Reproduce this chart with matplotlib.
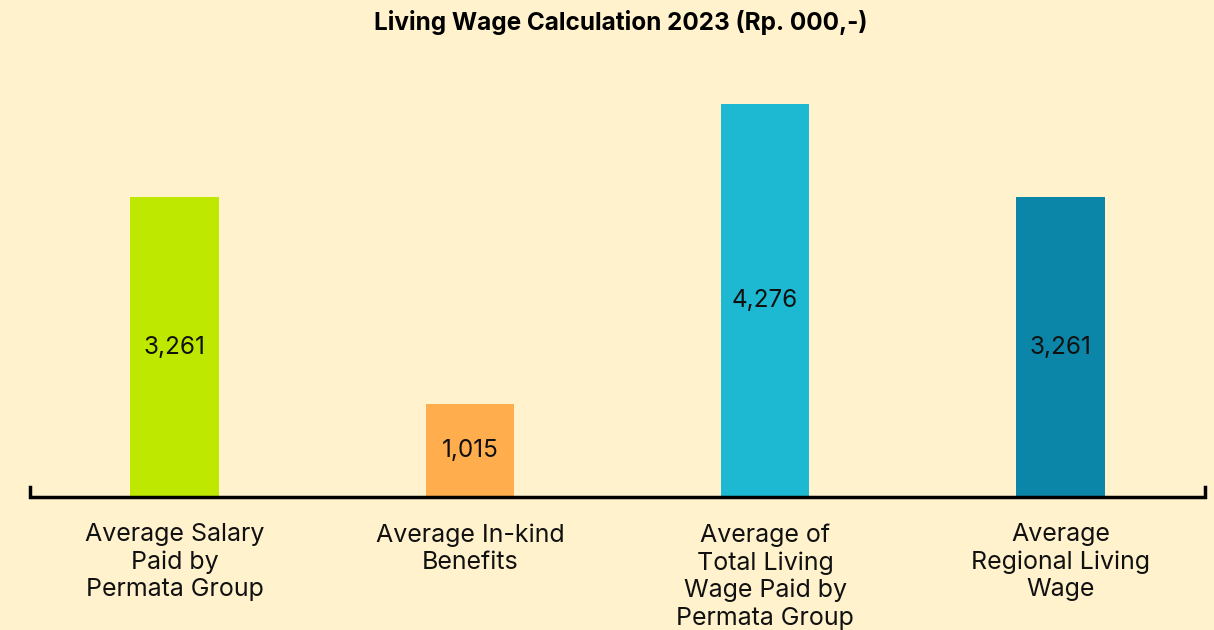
import numpy as np
import matplotlib.pyplot as plt

plt.rcParams['font.family'] = ['Inter', 'DejaVu Sans']

categories = ['Average Salary\nPaid by\nPermata Group',
              'Average In-kind\nBenefits',
              'Average of\nTotal Living\nWage Paid by\nPermata Group',
              'Average\nRegional Living\nWage']
values = [3261, 1015, 4276, 3261]
value_labels = ['3,261', '1,015', '4,276', '3,261']
colors = ['#BFE800', '#FFAD4D', '#1DB8D1', '#0B85A8']
bg = '#FFF2CC'

fig = plt.figure(figsize=(12.14, 6.3), dpi=100, facecolor=bg)
ax = fig.add_axes([30 / 1214, 133 / 630, 1175 / 1214, 437 / 630])
ax.set_facecolor(bg)

x = np.arange(len(values))
bars = ax.bar(x, values, width=0.3, color=colors)
for b, lab in zip(bars, value_labels):
    ax.text(b.get_x() + b.get_width() / 2, b.get_height() / 2, lab,
            ha='center', va='center', fontsize=17.5, color='#111111')

ax.set_xlim(-0.49, 3.49)
ax.set_ylim(0, 4754)
for s in ax.spines.values():
    s.set_visible(False)
ax.set_yticks([])
ax.set_xticks(x)
ax.set_xticklabels(categories, fontsize=18, linespacing=1.23, color='#111111')
ax.tick_params(axis='x', length=0, pad=19)

# bracket-style baseline
ax.plot([0, 0, 1, 1], [0.024, 0, 0, 0.024], color='black', lw=2.5,
        transform=ax.transAxes, clip_on=False, solid_joinstyle='miter')

fig.text(0.511, 0.965, 'Living Wage Calculation 2023 (Rp. 000,-)',
         ha='center', va='center', fontsize=17.5, fontweight='bold')

fig.savefig('out.png', dpi=100, facecolor=bg)
